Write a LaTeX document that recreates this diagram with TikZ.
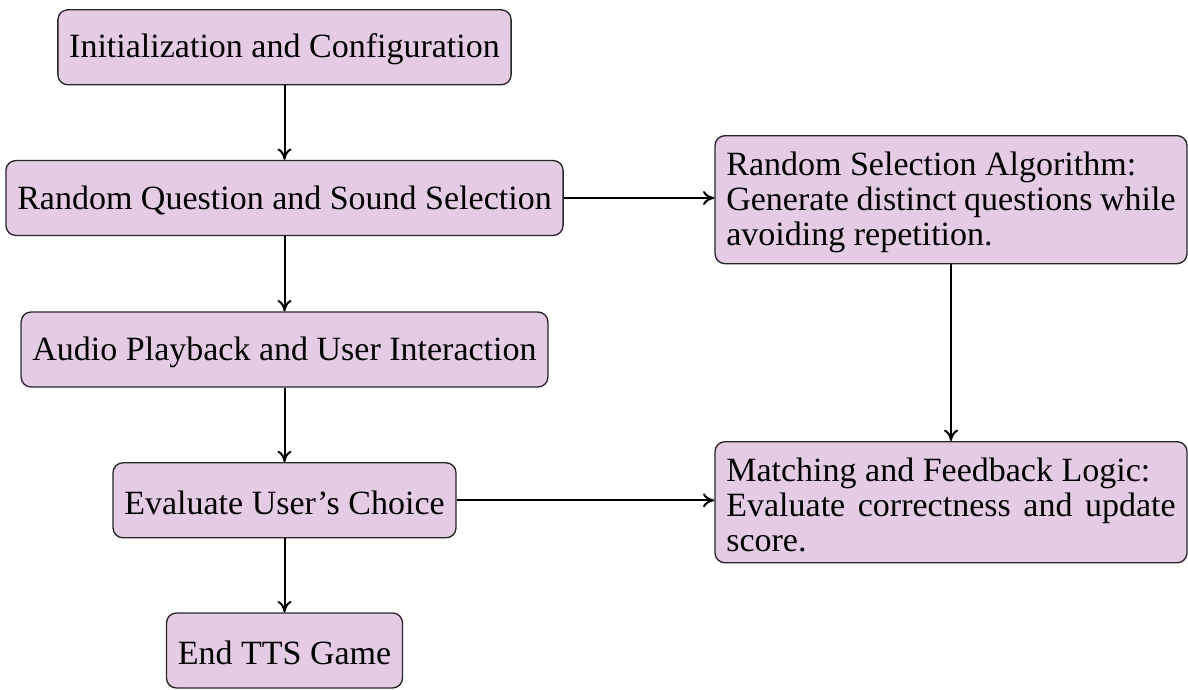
\documentclass[tikz,border=0pt]{standalone}
\usepackage{fontspec}
\setmainfont{Liberation Serif}
\usetikzlibrary{arrows.meta}
\begin{document}
\begin{tikzpicture}[x=0.3pt,y=-0.3pt,
  box/.style={draw=black!85, fill=violet!20, rounded corners=3pt,
    font=\fontsize{10.2pt}{10.4pt}\selectfont, inner sep=3.4pt, line width=0.4pt},
  stage/.style={box, minimum height=22.5pt, text height=8.6pt},
  detail/.style={box, anchor=north, text width=134.8pt, align=justify, text height=8.6pt},
  flow/.style={-{To[length=3.4pt,width=4.2pt,line width=0.6pt]}, line width=0.6pt}]
\useasboundingbox (0,0) rectangle (1188,689);

% main sequence of the game
\node[stage] (init)   at (284.5,47.3)  {Initialization and Configuration};
\node[stage] (select) at (284.5,198)   {Random Question and Sound Selection};
\node[stage] (play)   at (284.5,349.5) {Audio Playback and User Interaction};
\node[stage] (eval)   at (284.5,500.3) {Evaluate User’s Choice};
\node[stage] (finish) at (284.5,650.5) {End TTS Game};

% supporting logic
\node[detail] (algo)  at (951,135) {Random Selection Algorithm:\\ Generate distinct questions while avoiding repetition.};
\node[detail] (logic) at (951,441) {Matching and Feedback Logic:\\ Evaluate correctness and update score.};

\draw[flow] (init) -- (select);
\draw[flow] (select) -- (play);
\draw[flow] (play) -- (eval);
\draw[flow] (eval) -- (finish);
\draw[flow] (select.east) -- (select.east -| algo.west);
\draw[flow] (eval.east) -- (eval.east -| logic.west);
\draw[flow] (algo) -- (logic);
\end{tikzpicture}
\end{document}
